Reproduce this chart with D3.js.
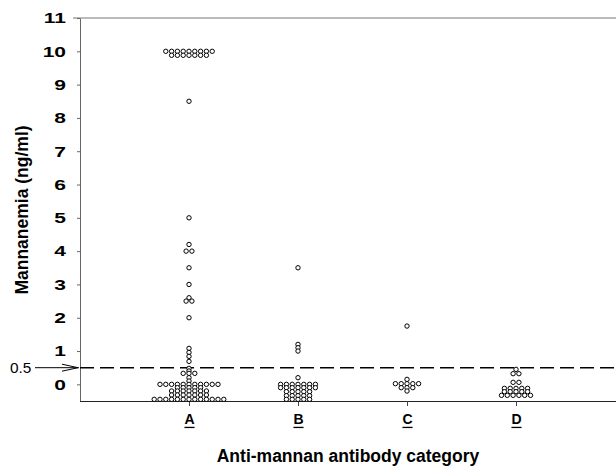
<!DOCTYPE html>
<html>
<head>
<meta charset="utf-8">
<script src="https://cdn.jsdelivr.net/npm/d3@7"></script>
<style>
  body { margin: 0; background: #fff; }
  svg { display: block; font-family: "Liberation Sans", Arial, sans-serif; }
</style>
</head>
<body>
<div id="chart"></div>
<script>
// Categories and the mannanemia values (ng/ml)
const categories = ["A", "B", "C", "D"];

const valuesA = [
    10, 10, 10, 10, 10, 10, 10, 10, 10,
    9.88, 9.88, 9.88, 9.88, 9.88, 9.88, 9.88,
    8.5, 5.0, 4.2, 4.0, 4.0, 3.5, 3.0, 2.6, 2.5, 2.5, 2.0,
    1.08, 0.96, 0.84, 0.69, 0.48, 0.4, 0.33, 0.33, 0.33, 0.2, 0.1,
    0, 0, 0, 0, 0, 0, 0, 0, 0, 0, 0,
    -0.1, -0.1, -0.1, -0.1, -0.1,
    -0.2, -0.2, -0.2, -0.2, -0.2, -0.2, -0.2,
    -0.32, -0.32, -0.32, -0.32, -0.32, -0.32, -0.32,
    -0.45, -0.45, -0.45, -0.45, -0.45, -0.45, -0.45, -0.45, -0.45, -0.45, -0.45, -0.45, -0.45
];
const valuesB = [
    3.5, 1.2, 1.1, 1.0, 0.2,
    0, 0, 0, 0, 0, 0, 0,
    -0.1, -0.1, -0.1, -0.1, -0.1, -0.1, -0.1,
    -0.22, -0.22, -0.22, -0.22, -0.22,
    -0.34, -0.34, -0.34, -0.34, -0.34,
    -0.45, -0.45, -0.45, -0.45, -0.45
];
const valuesC = [
    1.75, 0.15,
    0.02, 0.02, 0.02, 0.02, 0.02,
    -0.1, -0.1, -0.1, -0.2
];
const valuesD = [
    0.45, 0.32, 0.32, 0.06, 0.06,
    -0.12, -0.12, -0.12, -0.12, -0.12,
    -0.22, -0.22, -0.22, -0.22, -0.22,
    -0.33, -0.33, -0.33, -0.33, -0.33, -0.33
];
const groupValues = [valuesA, valuesB, valuesC, valuesD];

const yTicks = [0, 1, 2, 3, 4, 5, 6, 7, 8, 9, 10, 11];
const cutoff = 0.5;

const W = 616, H = 466;
const margin = { top: 18, right: 0, bottom: 65, left: 80 };

const svg = d3.select("#chart").append("svg")
    .attr("width", W)
    .attr("height", H);

const y = d3.scaleLinear()
    .domain([-0.5, 11])
    .range([H - margin.bottom, margin.top]);

const x = d3.scalePoint()
    .domain(categories)
    .range([margin.left, 625])
    .padding(1);

// top border
svg.append("line")
    .attr("x1", 73).attr("x2", W)
    .attr("y1", y(11)).attr("y2", y(11))
    .attr("stroke", "#777").attr("stroke-width", 1);

// Y axis
const yAxis = svg.append("g")
    .attr("transform", `translate(${margin.left},0)`)
    .call(d3.axisLeft(y).tickValues(yTicks).tickSize(3).tickPadding(11).tickSizeOuter(0));
yAxis.select(".domain").attr("stroke", "#666");
yAxis.selectAll(".tick line").attr("stroke", "#666");
yAxis.selectAll(".tick text")
    .attr("x", 0)
    .attr("transform", "translate(-14,0) scale(1.4,1)")
    .style("font-size", "15px")
    .style("font-weight", "bold")
    .attr("fill", "#000");

// X axis
const xAxis = svg.append("g")
    .attr("transform", `translate(0,${y(-0.5)})`)
    .call(d3.axisBottom(x).tickSize(5).tickPadding(8).tickSizeOuter(0));
xAxis.select(".domain").attr("stroke", "#222").attr("d", `M${margin.left},0.5H${W}`);
xAxis.selectAll(".tick line").attr("stroke", "#444");
xAxis.selectAll(".tick text")
    .style("font-size", "14px")
    .style("font-weight", "bold")
    .attr("fill", "#000");
// underline the category letters
xAxis.selectAll(".tick").each(function () {
    const t = d3.select(this).select("text");
    const bb = t.node().getBBox();
    d3.select(this).append("line")
        .attr("x1", bb.x).attr("x2", bb.x + bb.width)
        .attr("y1", bb.y + bb.height + 0.5).attr("y2", bb.y + bb.height + 0.5)
        .attr("stroke", "#000").attr("stroke-width", 1.3);
});

// dashed cut-off line
svg.append("line")
    .attr("x1", margin.left).attr("x2", W)
    .attr("y1", y(cutoff)).attr("y2", y(cutoff))
    .attr("stroke", "#000")
    .attr("stroke-width", 1.5)
    .attr("stroke-dasharray", "14,6");

// 0.5 label with arrow
svg.append("text")
    .attr("x", 10).attr("y", y(cutoff))
    .attr("dy", "0.35em")
    .style("font-size", "14px")
    .attr("transform", `translate(10,0) scale(1.1,1) translate(-10,0)`)
    .text(cutoff);
svg.append("line")
    .attr("x1", 35).attr("x2", 79)
    .attr("y1", y(cutoff)).attr("y2", y(cutoff))
    .attr("stroke", "#000").attr("stroke-width", 1);
svg.append("path")
    .attr("d", `M62,${y(cutoff) - 3.5}L78,${y(cutoff)}L62,${y(cutoff) + 3.5}`)
    .attr("fill", "none").attr("stroke", "#000").attr("stroke-width", 1);

// lay equal values side by side, centred on the category
function layoutRows(values, spacing) {
    const out = [];
    d3.group(values, v => v).forEach((vals, v) => {
        vals.forEach((_, i) => out.push({ value: v, offset: (i - (vals.length - 1) / 2) * spacing }));
    });
    return out;
}

categories.forEach((cat, gi) => {
    svg.append("g")
        .selectAll("circle")
        .data(layoutRows(groupValues[gi], 5.8))
        .join("circle")
        .attr("cx", d => x(cat) + d.offset)
        .attr("cy", d => y(d.value))
        .attr("r", 2.2)
        .attr("fill", "#fff")
        .attr("stroke", "#000")
        .attr("stroke-width", 1);
});

// axis titles
svg.append("text")
    .attr("x", (margin.left + W) / 2)
    .attr("y", 462)
    .attr("text-anchor", "middle")
    .style("font-size", "17.5px")
    .style("font-weight", "bold")
    .text("Anti-mannan antibody category");

svg.append("text")
    .attr("transform", `translate(28,${210}) rotate(-90)`)
    .attr("text-anchor", "middle")
    .style("font-size", "17.5px")
    .style("font-weight", "bold")
    .text("Mannanemia (ng/ml)");
</script>
</body>
</html>
